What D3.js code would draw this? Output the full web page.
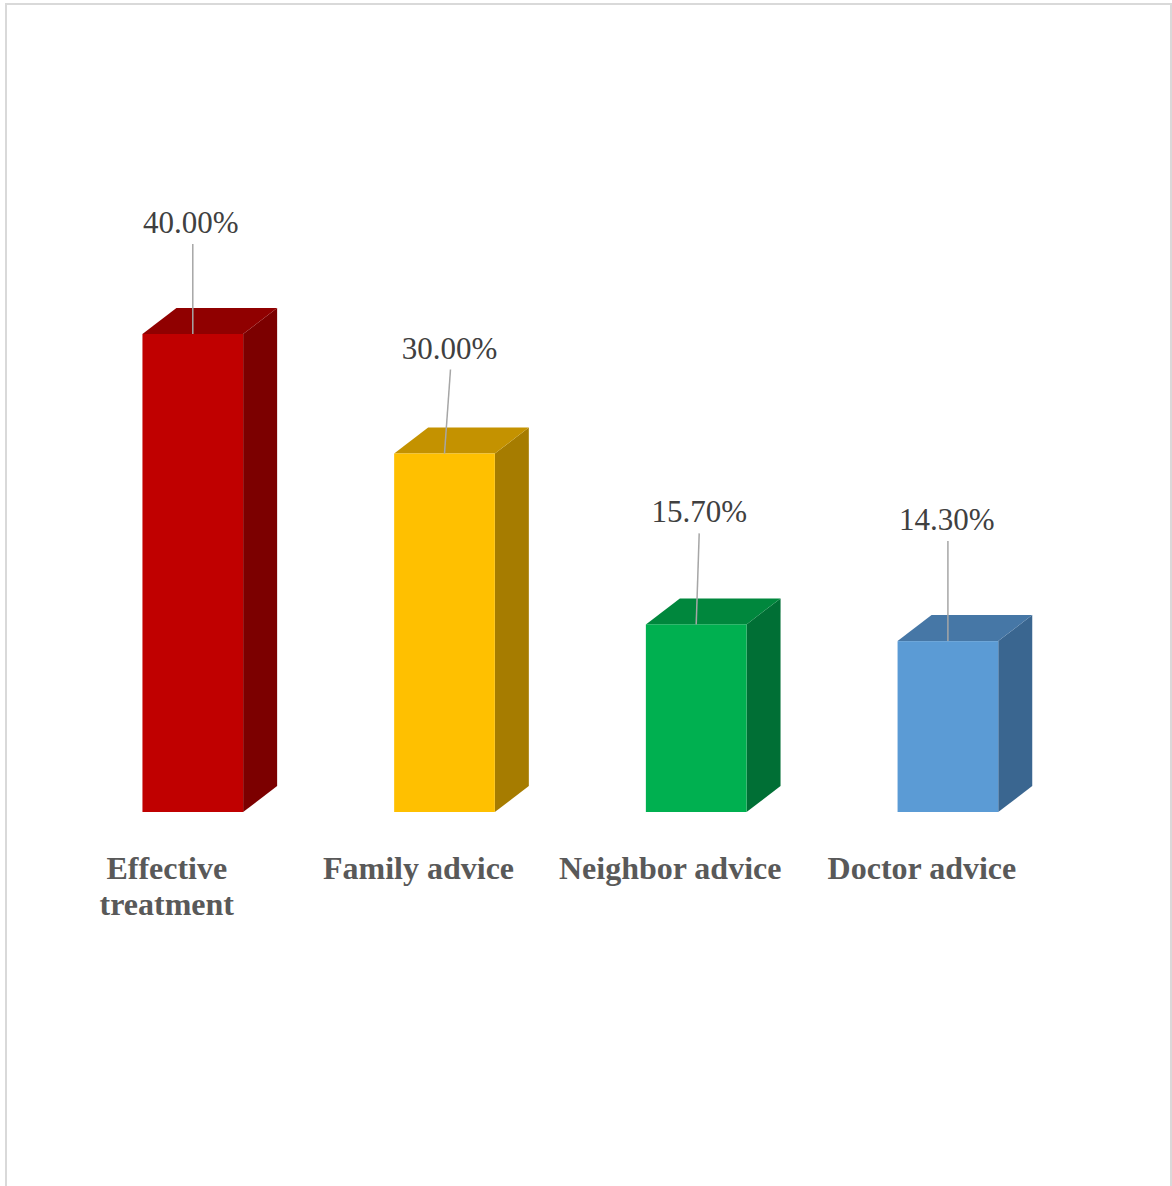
<!DOCTYPE html>
<html>
<head>
<meta charset="utf-8">
<script src="https://cdn.jsdelivr.net/npm/d3@7"></script>
<style>
  html, body { margin: 0; padding: 0; background: #fff; }
  svg { display: block; }
</style>
</head>
<body>
<script>
// ---- data ----
const categories = ["Effective treatment", "Family advice", "Neighbor advice", "Doctor advice"];
const categoryLines = [["Effective", "treatment"], ["Family advice"], ["Neighbor advice"], ["Doctor advice"]];
const values = [40.0, 30.0, 15.7, 14.3];
const valueLabels = ["40.00%", "30.00%", "15.70%", "14.30%"];

// ---- style ----
const frontColors = ["#C00000", "#FFC000", "#00B050", "#5B9BD5"];
const topColors   = ["#900000", "#C49200", "#00873D", "#4677A6"];
const sideColors  = ["#7C0000", "#A67C00", "#006F35", "#3A6690"];
// small manual nudges of the data labels (layout, not data)
const labelNudge = [{dx: -2, dy: 0, lx: 0}, {dx: 5, dy: 6, lx: 6}, {dx: 3, dy: -1, lx: 3}, {dx: -1, dy: -10, lx: 0}];

const W = 1172, H = 1186;
const svg = d3.select("body").append("svg").attr("width", W).attr("height", H);

svg.append("rect").attr("x", 6).attr("y", 4).attr("width", 1165).attr("height", 1200)
  .attr("fill", "#fff").attr("stroke", "#d9d9d9").attr("stroke-width", 2);

const x = d3.scaleBand().domain(categories).range([16.6, 1124.1]).paddingInner(0.6).paddingOuter(0.5);
const y = d3.scaleLinear().domain([0, 40]).range([812, 334]);
const DX = 34, DY = 26;

const g = svg.append("g");
categories.forEach((c, i) => {
  const x0 = x(c), x1 = x0 + x.bandwidth();
  const yt = y(values[i]), yb = y(0);
  // side face
  g.append("path")
    .attr("d", `M${x1},${yt} L${x1 + DX},${yt - DY} L${x1 + DX},${yb - DY} L${x1},${yb} Z`)
    .attr("fill", sideColors[i]);
  // top face
  g.append("path")
    .attr("d", `M${x0},${yt} L${x0 + DX},${yt - DY} L${x1 + DX},${yt - DY} L${x1},${yt} Z`)
    .attr("fill", topColors[i]);
  // front face
  g.append("rect").attr("x", x0).attr("y", yt).attr("width", x.bandwidth()).attr("height", yb - yt)
    .attr("fill", frontColors[i]);

  // data label
  const cx = x0 + x.bandwidth() / 2;
  const n = labelNudge[i];
  const base = yt - 101 + n.dy;
  g.append("line")
    .attr("x1", cx + n.lx).attr("y1", base + 11)
    .attr("x2", cx).attr("y2", yt)
    .attr("stroke", "#a6a6a6").attr("stroke-width", 1.5);
  g.append("text")
    .attr("x", cx + n.dx).attr("y", base)
    .attr("text-anchor", "middle")
    .attr("font-family", "'Liberation Serif', 'Times New Roman', serif")
    .attr("font-size", 31).attr("fill", "#404040")
    .text(valueLabels[i]);

  // category label
  const t = g.append("text")
    .attr("x", cx - 26).attr("y", 879)
    .attr("text-anchor", "middle")
    .attr("font-family", "'Liberation Serif', 'Times New Roman', serif")
    .attr("font-weight", "bold")
    .attr("font-size", 32).attr("fill", "#595959");
  categoryLines[i].forEach((line, k) => {
    t.append("tspan").attr("x", cx - 26).attr("dy", k === 0 ? 0 : 36).text(line);
  });
});
</script>
</body>
</html>
